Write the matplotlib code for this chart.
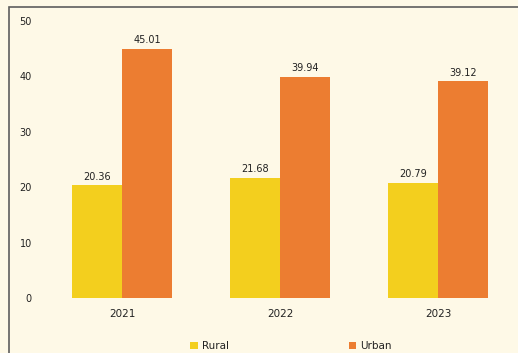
import matplotlib.pyplot as plt
import numpy as np
from matplotlib.patches import Rectangle

YEARS = ["2021", "2022", "2023"]
RURAL = [20.36, 21.68, 20.79]
URBAN = [45.01, 39.94, 39.12]

BACKGROUND = "#FEF9E7"
RURAL_COLOR = "#F3CF1E"
URBAN_COLOR = "#EC7D31"
INK = "#222222"

W, H = 518, 353


def main():
    plt.rcParams["font.family"] = ["DejaVu Sans"]
    fig = plt.figure(figsize=(W / 100, H / 100), dpi=100, facecolor=BACKGROUND)

    # axes placed in pixel terms: 0 at y=298, 50 at y=21
    left_px, right_px = 38, 518
    ax = fig.add_axes([left_px / W, 1 - 298 / H, (right_px - left_px) / W, (298 - 21) / H])
    ax.set_facecolor(BACKGROUND)

    x = np.arange(len(YEARS))
    width = 0.316
    rural_bars = ax.bar(x - width / 2, RURAL, width, color=RURAL_COLOR, label="Rural", zorder=3)
    urban_bars = ax.bar(x + width / 2, URBAN, width, color=URBAN_COLOR, label="Urban", zorder=3)

    for bars, values in ((rural_bars, RURAL), (urban_bars, URBAN)):
        for bar, value in zip(bars, values):
            ax.annotate(
                f"{value:.2f}",
                (bar.get_x() + bar.get_width() / 2, value),
                xytext=(0, 2.5),
                textcoords="offset points",
                ha="center",
                va="bottom",
                fontsize=7,
                color=INK,
            )

    unit = 158
    ax.set_xlim((left_px - 122) / unit, (right_px - 122) / unit)
    ax.set_ylim(0, 50)
    ax.set_yticks(np.arange(0, 51, 10))
    ax.set_xticks(x, YEARS)
    ax.tick_params(axis="y", length=0, pad=4.5, labelsize=7, colors=INK)
    ax.tick_params(axis="x", length=0, pad=8, labelsize=7.5, colors=INK)
    for label in ax.get_xticklabels():
        label.set_fontweight("medium")
    for spine in ax.spines.values():
        spine.set_visible(False)

    # outer frame, cut by the figure edges on the right and bottom
    fig.patches.append(
        Rectangle(
            (9 / W, -0.1),
            1.2,
            1 - 7 / H + 0.1,
            transform=fig.transFigure,
            fill=False,
            edgecolor="#5E5E5E",
            linewidth=1.2,
            zorder=0,
        )
    )

    fig.legend(
        handles=[rural_bars, urban_bars],
        loc="center",
        bbox_to_anchor=(291 / W, 1 - 346 / H),
        ncol=2,
        frameon=False,
        fontsize=7.5,
        handlelength=0.7,
        handleheight=0.7,
        handletextpad=0.4,
        columnspacing=11.5,
        labelcolor=INK,
    )

    fig.savefig("out.png", dpi=100, facecolor=BACKGROUND)
    plt.close(fig)


if __name__ == "__main__":
    main()
